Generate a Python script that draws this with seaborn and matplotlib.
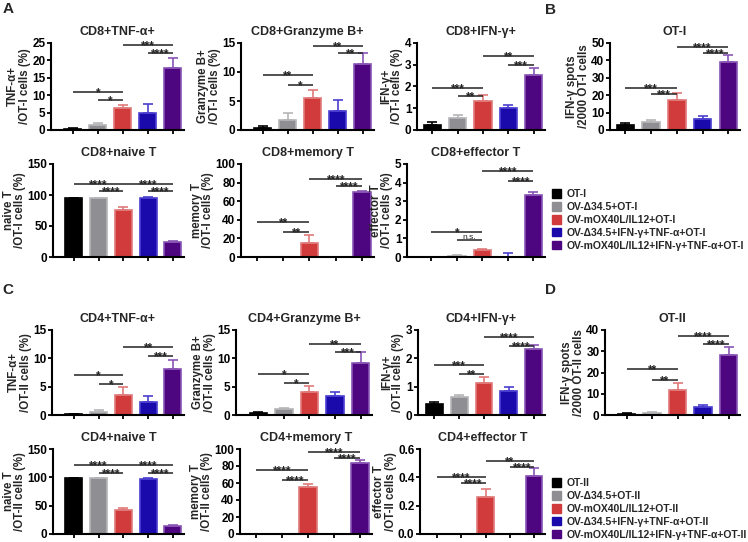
import numpy as np
import matplotlib
matplotlib.use("Agg")
import matplotlib.pyplot as plt
import seaborn as sns
from matplotlib.patches import Patch

sns.set_theme(style="ticks")
plt.rcParams['font.family'] = ['Liberation Sans', 'DejaVu Sans']
plt.rcParams['font.weight'] = 'bold'
plt.rcParams['axes.labelweight'] = 'bold'

# groups (legend text)
groups_cd8 = ['OT-I', 'OV-Δ34.5+OT-I', 'OV-mOX40L/IL12+OT-I',
              'OV-Δ34.5+IFN-γ+TNF-α+OT-I', 'OV-mOX40L/IL12+IFN-γ+TNF-α+OT-I']
groups_cd4 = ['OT-II', 'OV-Δ34.5+OT-II', 'OV-mOX40L/IL12+OT-II',
              'OV-Δ34.5+IFN-γ+TNF-α+OT-II', 'OV-mOX40L/IL12+IFN-γ+TNF-α+OT-II']

bar_colors = ['#000000', '#8e8e93', '#d13b3b', '#1a0aab', '#4e0680']
edge_colors = ['#000000', '#b5b5b8', '#e07a7a', '#4a3fd0', '#8a55b5']

# CD8 (OT-I) values: mean, SEM
cd8_tnf = [0.3, 1.5, 6.2, 5.0, 17.8]
cd8_tnf_err = [0.25, 0.4, 1.0, 2.5, 2.8]
cd8_gzb = [0.4, 1.8, 5.6, 3.3, 11.3]
cd8_gzb_err = [0.35, 1.1, 1.3, 1.8, 1.9]
cd8_ifn = [0.25, 0.57, 1.32, 1.0, 2.52]
cd8_ifn_err = [0.12, 0.1, 0.3, 0.17, 0.32]
ot1_spots = [3.0, 4.5, 17.5, 6.5, 39.0]
ot1_spots_err = [0.8, 1.5, 3.8, 1.6, 4.0]
cd8_naive = [95.0, 94.5, 76.5, 94.5, 24.5]
cd8_naive_err = [0.8, 0.8, 4.0, 2.0, 1.5]
cd8_memory = [0.0, 0.0, 15.5, 0.0, 70.0]
cd8_memory_err = [0.0, 0.0, 8.0, 0.0, 1.5]
cd8_effector = [0.0, 0.05, 0.35, 0.02, 3.32]
cd8_effector_err = [0.0, 0.05, 0.1, 0.18, 0.2]

# CD4 (OT-II) values
cd4_tnf = [0.15, 0.5, 3.6, 2.3, 8.2]
cd4_tnf_err = [0.1, 0.3, 1.3, 1.1, 1.5]
cd4_gzb = [0.35, 1.0, 4.1, 3.3, 9.1]
cd4_gzb_err = [0.25, 0.2, 1.1, 0.8, 2.1]
cd4_ifn = [0.38, 0.65, 1.13, 0.86, 2.33]
cd4_ifn_err = [0.08, 0.05, 0.2, 0.13, 0.13]
ot2_spots = [0.6, 0.9, 12.0, 4.0, 28.2]
ot2_spots_err = [0.2, 0.6, 3.0, 0.6, 4.0]
cd4_naive = [98.5, 98.5, 43.0, 96.5, 13.5]
cd4_naive_err = [0.6, 0.6, 3.0, 1.5, 2.0]
cd4_memory = [0.0, 0.0, 55.5, 0.0, 84.0]
cd4_memory_err = [0.0, 0.0, 3.5, 0.0, 2.5]
cd4_effector = [0.0, 0.0, 0.26, 0.0, 0.41]
cd4_effector_err = [0.0, 0.0, 0.055, 0.0, 0.055]

# significance brackets: (from bar, to bar, height, label)
sig_cd8_tnf = [(0, 2, 11, '*'), (1, 2, 8.5, '*'), (2, 4, 24.5, '***'), (3, 4, 22, '****')]
sig_cd8_gzb = [(0, 2, 9.5, '**'), (1, 2, 7.8, '*'), (2, 4, 14.5, '**'), (3, 4, 13.2, '**')]
sig_cd8_ifn = [(0, 2, 1.95, '***'), (1, 2, 1.55, '**'), (2, 4, 3.4, '**'), (3, 4, 3.0, '***')]
sig_ot1 = [(0, 2, 24, '***'), (1, 2, 20.5, '***'), (2, 4, 47.5, '****'), (3, 4, 44.5, '****')]
sig_cd8_naive = [(0, 2, 118, '****'), (1, 2, 107, '****'), (2, 4, 118, '****'), (3, 4, 107, '****')]
sig_cd8_memory = [(0, 2, 38, '**'), (1, 2, 27, '**'), (2, 4, 84, '****'), (3, 4, 76, '****')]
sig_cd8_effector = [(0, 2, 1.35, '*'), (1, 2, 0.9, 'n.s.'), (2, 4, 4.65, '****'), (3, 4, 4.1, '****')]

sig_cd4_tnf = [(0, 2, 7.1, '*'), (1, 2, 5.5, '*'), (2, 4, 12, '**'), (3, 4, 10.5, '***')]
sig_cd4_gzb = [(0, 2, 7.2, '*'), (1, 2, 5.7, '*'), (2, 4, 12.5, '**'), (3, 4, 11.1, '***')]
sig_cd4_ifn = [(0, 2, 1.75, '***'), (1, 2, 1.45, '**'), (2, 4, 2.75, '****'), (3, 4, 2.45, '****')]
sig_ot2 = [(0, 2, 21.5, '**'), (1, 2, 16.5, '**'), (2, 4, 37, '****'), (3, 4, 33.5, '****')]
sig_cd4_naive = [(0, 2, 121, '****'), (1, 2, 108, '****'), (2, 4, 121, '****'), (3, 4, 108, '****')]
sig_cd4_memory = [(0, 2, 75, '****'), (1, 2, 64, '****'), (2, 4, 97, '****'), (3, 4, 90, '****')]
sig_cd4_effector = [(0, 2, 0.4, '****'), (1, 2, 0.36, '****'), (2, 4, 0.515, '**'), (3, 4, 0.47, '****')]

W, H = 748, 542
fig = plt.figure(figsize=(W / 100, H / 100), dpi=100)


def px_rect(x0, y_top, x1, y_bot):
    return [x0 / W, 1 - y_bot / H, (x1 - x0) / W, (y_bot - y_top) / H]


def panel(rect, title, ylabel, groups, means, errs, ymax, step, sigs, x_left=-0.88, fmt='{:g}'):
    ax = fig.add_axes(px_rect(*rect))
    sns.barplot(x=groups, y=means, hue=groups, palette=bar_colors, legend=False,
                width=0.68, saturation=1, ax=ax, linewidth=1.2)
    for p, ec in zip(ax.patches, edge_colors):
        p.set_edgecolor(ec)
    for i, (m, e) in enumerate(zip(means, errs)):
        if e > 0:
            ax.errorbar(i, m, yerr=[[0], [e]], fmt='none', ecolor=edge_colors[i],
                        elinewidth=1.2, capsize=3.5, capthick=1.2)
    for i, j, y, lab in sigs:
        ax.plot([i, j], [y, y], color='#222222', lw=1.1, solid_capstyle='butt')
        if lab == 'n.s.':
            ax.annotate(lab, xy=((i + j) / 2, y), xytext=(0, 1.2), textcoords='offset points',
                        ha='center', va='baseline', fontsize=6, fontweight='normal', color='#222222')
        else:
            ax.annotate(lab, xy=((i + j) / 2, y), xytext=(0, -3.0), textcoords='offset points',
                        ha='center', va='baseline', fontsize=8.5, fontweight='bold', color='#222222')
    ax.set_xlim(x_left, 4.45)
    ax.set_ylim(0, ymax)
    ticks = np.arange(0, ymax + step / 2, step)
    ax.set_yticks(ticks)
    ax.set_yticklabels([fmt.format(t) for t in ticks], fontsize=8.5, fontweight='bold')
    ax.set_xticks(range(5))
    ax.set_xticklabels([])
    ax.set_xlabel('')
    ax.set_ylabel(ylabel, fontsize=8.3, fontweight='bold', labelpad=1, linespacing=0.95)
    ax.set_title(title, fontsize=9, fontweight='bold', pad=6)
    sns.despine(ax=ax)
    for s in ['left', 'bottom']:
        ax.spines[s].set_linewidth(1.5)
        ax.spines[s].set_color('black')
    ax.tick_params(axis='both', direction='out', length=3, width=1.3, pad=1, colors='black')
    return ax


# layout rows (top px, bottom px)
r1 = (43, 130)
r2 = (164, 257)
r3 = (330, 415)
r4 = (449, 534)

panel((51, r1[0], 184, r1[1]), 'CD8+TNF-α+', 'TNF-α+\n/OT-I cells (%)', groups_cd8,
      cd8_tnf, cd8_tnf_err, 25, 5, sig_cd8_tnf)
panel((241, r1[0], 374, r1[1]), 'CD8+Granzyme B+', 'Granzyme B+\n/OT-I cells (%)', groups_cd8,
      cd8_gzb, cd8_gzb_err, 15, 5, sig_cd8_gzb)
panel((417, r1[0], 545, r1[1]), 'CD8+IFN-γ+', 'IFN-γ+\n/OT-I cells (%)', groups_cd8,
      cd8_ifn, cd8_ifn_err, 4, 1, sig_cd8_ifn, x_left=-0.6)
panel((610, r1[0], 740, r1[1]), 'OT-I', 'IFN-γ spots\n/2000 OT-I cells', groups_cd8,
      ot1_spots, ot1_spots_err, 50, 10, sig_ot1, x_left=-0.6)

panel((53, r2[0], 184, r2[1]), 'CD8+naive T', 'naive T\n/OT-I cells (%)', groups_cd8,
      cd8_naive, cd8_naive_err, 150, 50, sig_cd8_naive, x_left=-0.84)
panel((241, r2[0], 374, r2[1]), 'CD8+memory T', 'memory T\n/OT-I cells (%)', groups_cd8,
      cd8_memory, cd8_memory_err, 100, 20, sig_cd8_memory, x_left=-0.6)
panel((407, r2[0], 545, r2[1]), 'CD8+effector T', 'effector T\n/OT-I cells (%)', groups_cd8,
      cd8_effector, cd8_effector_err, 5, 1, sig_cd8_effector, x_left=-0.95)

panel((52, r3[0], 184, r3[1]), 'CD4+TNF-α+', 'TNF-α+\n/OT-II cells (%)', groups_cd4,
      cd4_tnf, cd4_tnf_err, 15, 5, sig_cd4_tnf)
panel((236, r3[0], 372, r3[1]), 'CD4+Granzyme B+', 'Granzyme B+\n/OT-II cells (%)', groups_cd4,
      cd4_gzb, cd4_gzb_err, 15, 5, sig_cd4_gzb)
panel((418, r3[0], 545, r3[1]), 'CD4+IFN-γ+', 'IFN-γ+\n/OT-II cells (%)', groups_cd4,
      cd4_ifn, cd4_ifn_err, 3, 1, sig_cd4_ifn, x_left=-0.65)
panel((605, r3[0], 740, r3[1]), 'OT-II', 'IFN-γ spots\n/2000 OT-II cells', groups_cd4,
      ot2_spots, ot2_spots_err, 40, 10, sig_ot2, x_left=-0.85)

panel((53, r4[0], 184, r4[1]), 'CD4+naive T', 'naive T\n/OT-II cells (%)', groups_cd4,
      cd4_naive, cd4_naive_err, 150, 50, sig_cd4_naive, x_left=-0.84)
panel((240, r4[0], 372, r4[1]), 'CD4+memory T', 'memory T\n/OT-II cells (%)', groups_cd4,
      cd4_memory, cd4_memory_err, 100, 20, sig_cd4_memory, x_left=-0.6)
panel((420, r4[0], 545, r4[1]), 'CD4+effector T', 'effector T\n/OT-II cells (%)', groups_cd4,
      cd4_effector, cd4_effector_err, 0.6, 0.2, sig_cd4_effector, x_left=-0.7, fmt='{:.1f}')

# legends
for groups, y in [(groups_cd8, 189), (groups_cd4, 478)]:
    handles = [Patch(facecolor=c, edgecolor=c) for c in bar_colors]
    fig.legend(handles, groups, loc='upper left', bbox_to_anchor=(552 / W, 1 - y / H),
               frameon=False, handlelength=0.9, handleheight=0.9, handletextpad=0.5,
               labelspacing=0.28, borderaxespad=0, borderpad=0,
               prop={'weight': 'bold', 'size': 7.5})

# panel letters
for lab, x, y in [('A', 8, 9), ('B', 550, 10), ('C', 8, 290), ('D', 550, 290)]:
    fig.text(x / W, 1 - y / H, lab, fontsize=11, fontweight='bold', va='center', ha='center')

fig.savefig('out.png', dpi=100)
